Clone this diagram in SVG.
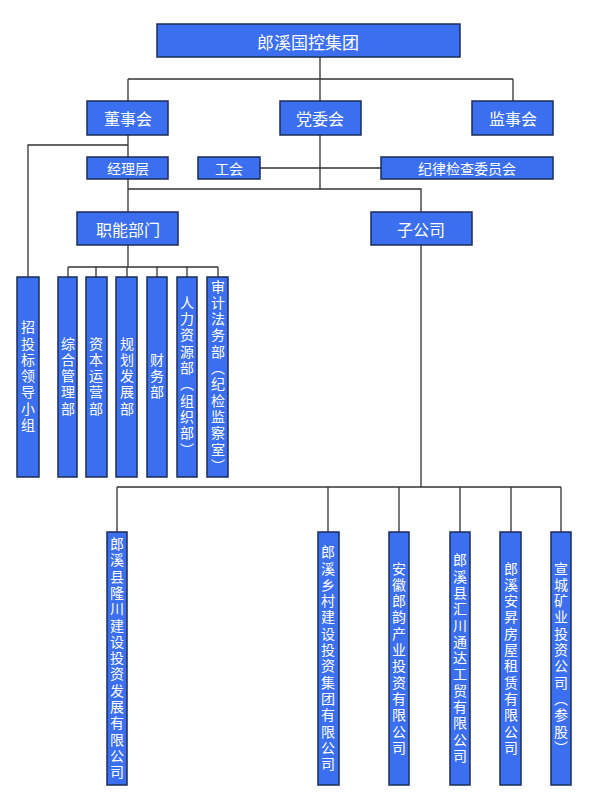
<svg xmlns="http://www.w3.org/2000/svg" width="600" height="806" viewBox="0 0 600 806">
<style>
.b{fill:#3b6ff0;stroke:#1c2c55;stroke-width:1.5}
.t{fill:#fff;font-family:"Noto Sans CJK SC","Noto Sans",sans-serif;text-anchor:middle;dominant-baseline:central}
.v{fill:#fff;font-family:"Noto Sans CJK SC",sans-serif;font-size:14px;writing-mode:vertical-rl;text-anchor:middle;letter-spacing:2.3px}
.c{fill:none;stroke:#333;stroke-width:1.3}
</style>
<rect width="600" height="806" fill="#fff"/>
<g id="connectors" class="c">
<path d="M320 57V79M128 79H513M128 79V101M320 79V101M513 79V101"/>
<path d="M128 135V212M128 145H28V277"/>
<path d="M320 135V189M260 168H381M128 189H421V212"/>
<path d="M128 245V267M68 267H218M68 267V277M96 267V277M127 267V277M157 267V277M187 267V277M218 267V277"/>
<path d="M421 245V487M117 487H561M117 487V532M328 487V532M399 487V532M460 487V532M511 487V532M561 487V532"/>
</g>
<g id="n0"><rect class="b" x="157" y="24" width="303" height="33"/><text class="t" x="308" y="41" font-size="17">郎溪国控集团</text></g>
<g id="n1"><rect class="b" x="87" y="101" width="81" height="34"/><text class="t" x="128" y="118" font-size="16">董事会</text></g>
<g id="n2"><rect class="b" x="280" y="101" width="81" height="34"/><text class="t" x="320" y="118" font-size="16">党委会</text></g>
<g id="n3"><rect class="b" x="472" y="101" width="81" height="34"/><text class="t" x="513" y="118" font-size="16">监事会</text></g>
<g id="n4"><rect class="b" x="87" y="157" width="81" height="22"/><text class="t" x="128" y="168" font-size="14">经理层</text></g>
<g id="n5"><rect class="b" x="198" y="157" width="62" height="22"/><text class="t" x="229" y="168" font-size="14">工会</text></g>
<g id="n6"><rect class="b" x="381" y="157" width="172" height="22"/><text class="t" x="467" y="168" font-size="14">纪律检查委员会</text></g>
<g id="n7"><rect class="b" x="77" y="212" width="101" height="33"/><text class="t" x="128" y="229" font-size="16">职能部门</text></g>
<g id="n8"><rect class="b" x="371" y="212" width="101" height="33"/><text class="t" x="421" y="229" font-size="16">子公司</text></g>
<g id="d0"><rect class="b" x="17" y="277" width="22" height="200"/><text class="v" x="28" y="377">招投标领导小组</text></g>
<g id="d1"><rect class="b" x="58" y="277" width="19" height="200"/><text class="v" x="68" y="377">综合管理部</text></g>
<g id="d2"><rect class="b" x="86" y="277" width="21" height="200"/><text class="v" x="96" y="377">资本运营部</text></g>
<g id="d3"><rect class="b" x="116" y="277" width="21" height="200"/><text class="v" x="127" y="377">规划发展部</text></g>
<g id="d4"><rect class="b" x="147" y="277" width="20" height="200"/><text class="v" x="157" y="377">财务部</text></g>
<g id="d5"><rect class="b" x="177" y="277" width="20" height="200"/><text class="v" x="187" y="377">人力资源部（组织部）</text></g>
<g id="d6"><rect class="b" x="207" y="277" width="21" height="200"/><text class="v" x="218" y="377">审计法务部（纪检监察室）</text></g>
<g id="s0"><rect class="b" x="107" y="532" width="20" height="253"/><text class="v" x="117" y="659">郎溪县隆川建设投资发展有限公司</text></g>
<g id="s1"><rect class="b" x="318" y="532" width="21" height="253"/><text class="v" x="328" y="659">郎溪乡村建设投资集团有限公司</text></g>
<g id="s2"><rect class="b" x="389" y="532" width="20" height="253"/><text class="v" x="399" y="659">安徽郎韵产业投资有限公司</text></g>
<g id="s3"><rect class="b" x="450" y="532" width="20" height="253"/><text class="v" x="460" y="659">郎溪县汇川通达工贸有限公司</text></g>
<g id="s4"><rect class="b" x="500" y="532" width="21" height="253"/><text class="v" x="511" y="659">郎溪安昇房屋租赁有限公司</text></g>
<g id="s5"><rect class="b" x="551" y="532" width="20" height="253"/><text class="v" x="561" y="659">宣城矿业投资公司（参股）</text></g>
</svg>
